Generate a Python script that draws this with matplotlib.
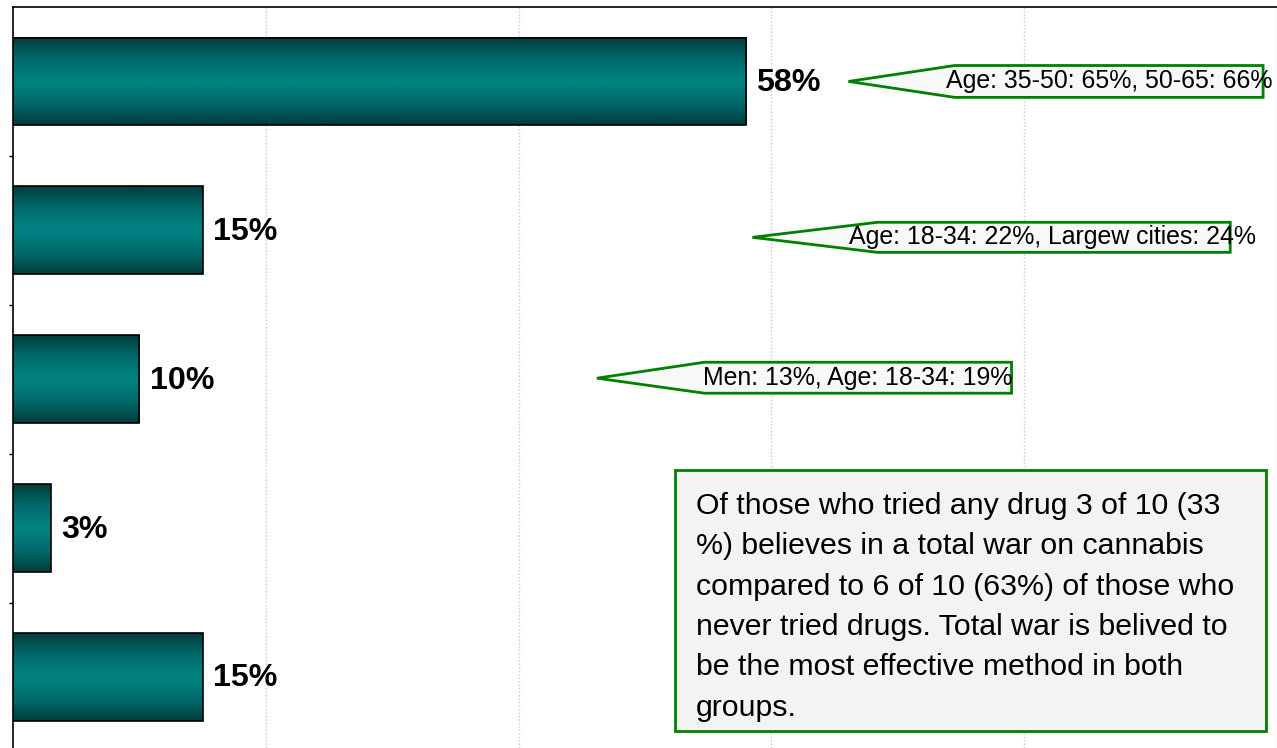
import matplotlib
matplotlib.use("Agg")
import matplotlib.pyplot as plt
import numpy as np
from matplotlib.patches import Rectangle, Polygon
from matplotlib.colors import LinearSegmentedColormap

plt.rcParams['font.family'] = ['Liberation Sans', 'DejaVu Sans']

# ---- data ----
values = [58, 15, 10, 3, 15]
value_labels = ["58%", "15%", "10%", "3%", "15%"]
callout_texts = ["Age: 35-50: 65%, 50-65: 66%",
                 "Age: 18-34: 22%, Largew cities: 24%",
                 "Men: 13%, Age: 18-34: 19%"]
note_text = ("Of those who tried any drug 3 of 10 (33\n"
             "%) believes in a total war on cannabis\n"
             "compared to 6 of 10 (63%) of those who\n"
             "never tried drugs. Total war is belived to\n"
             "be the most effective method in both\n"
             "groups.")

# ---- layout (positions in data coords) ----
# (tip_x, tip_y, box_left, box_right, box_top, box_bottom, text_x, text_y)
callout_layout = [
    (66.1, 0.0, 74.5, 98.9, -0.107, 0.107, 73.8, 0.0),
    (58.5, 1.047, 68.4, 96.3, 0.946, 1.148, 66.1, 1.047),
    (46.2, 1.993, 54.7, 79.0, 1.886, 2.094, 54.6, 1.993),
]

W, H = 1277, 748
fig = plt.figure(figsize=(W / 100, H / 100), dpi=100)
ax = fig.add_axes([13 / W, 0, 1264 / W, (H - 7) / H])
ax.set_xlim(0, 100)
ax.set_ylim(4.477, -0.5)

# grid
for gx in [20, 40, 60, 80]:
    ax.axvline(gx, color='#c8c8c8', lw=1, ls=(0, (1, 1.5)), zorder=0)

cmap = LinearSegmentedColormap.from_list(
    'tealgrad',
    [(0.0, '#013c3c'), (0.22, '#016666'), (0.45, '#008080'),
     (0.55, '#008080'), (0.78, '#016666'), (1.0, '#013c3c')])
grad = np.linspace(0, 1, 256).reshape(-1, 1)

bar_h = 0.59
for i, v in enumerate(values):
    top, bot = i - bar_h / 2, i + bar_h / 2
    ax.imshow(grad, cmap=cmap, aspect='auto', extent=[0, v, bot, top],
              zorder=2, interpolation='bilinear')
    ax.add_patch(Rectangle((0, top), v, bar_h, facecolor='none',
                           edgecolor='black', lw=1.2, zorder=3))
    ax.text(v + 0.8, i + 0.01, value_labels[i], fontsize=23.2,
            fontweight='bold', va='center', ha='left', zorder=4)

for txt, (tx, ty, bl, br, bt, bb, xx, yy) in zip(callout_texts, callout_layout):
    poly = Polygon([(tx, ty), (bl, bt), (br, bt), (br, bb), (bl, bb)],
                   closed=True, facecolor='#f8f8f8', edgecolor='#008000',
                   lw=2, zorder=5)
    ax.add_patch(poly)
    ax.text(xx, yy, txt, fontsize=17.9, va='center', ha='left', zorder=6)

# note box
bx0, bx1 = (675 - 13) / 12.64, (1266 - 13) / 12.64
by0, by1 = (470 - 81) / 149, (731 - 81) / 149
ax.add_patch(Rectangle((bx0, by0), bx1 - bx0, by1 - by0, facecolor='#f3f3f3',
                       edgecolor='#008000', lw=2, zorder=5))
ax.text((696 - 13) / 12.64, (492 - 81) / 149, note_text, fontsize=21.8,
        va='top', ha='left', linespacing=1.56, zorder=6)

ax.set_xticks([])
ax.set_yticks([0.5, 1.5, 2.5, 3.5])
ax.set_yticklabels([])
ax.tick_params(axis='y', length=3, direction='out', width=1)
ax.spines['left'].set_color('black')
ax.spines['left'].set_linewidth(1.2)
ax.spines['top'].set_color('black')
ax.spines['top'].set_linewidth(1.2)
ax.spines['right'].set_color('#909090')
ax.spines['bottom'].set_visible(False)

fig.savefig('out.png', dpi=100)
